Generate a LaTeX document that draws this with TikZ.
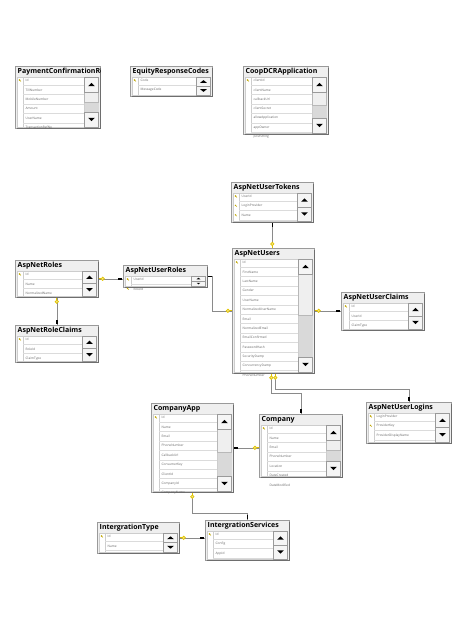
\documentclass[tikz,border=0pt]{standalone}
\usepackage{fontspec}
\setmainfont{Open Sans}
\usetikzlibrary{positioning}

\definecolor{framegray}{HTML}{9A9A9A}
\definecolor{shadegray}{HTML}{6E6E6E}
\definecolor{titlegray}{HTML}{EFEFEF}
\definecolor{trackgray}{HTML}{D9D9D9}
\definecolor{keyyellow}{HTML}{E2C400}
\definecolor{relgray}{HTML}{8A8A8A}

\tikzset{
  tblframe/.style={draw=framegray, fill=titlegray, line width=0.6pt, inner sep=0pt, rectangle},
  tbltitle/.style={font=\fontsize{7}{8}\selectfont\bfseries, inner sep=0pt, text=black},
  tblrow/.style={font=\fontsize{3.2}{3.6}\selectfont, inner sep=0pt, text=black!60},
  rel/.style={draw=relgray, line width=0.6pt},
  pkkey/.pic={
    \fill[keyyellow!85!black] (-0.5,-0.5) circle (0.8pt);
    \draw[keyyellow!85!black, line width=0.4pt] (-0.5,-0.5) -- (0.9,0.9);
  },
  relkey/.pic={
    \draw[keyyellow, line width=0.8pt] (0,0) -- (2.4,0);
    \draw[keyyellow, line width=0.7pt, fill=keyyellow!45] (4.1,0) circle (1.7pt);
  },
  manyend/.pic={
    \draw[black, line width=1.6pt] (0.8,0) -- (4.6,0);
  }
}

% table: name, top-left, width, height, title, rows (name/key)
\newcommand{\dbtable}[6]{%
  \begin{scope}[shift={(#2)}]
    \pgfmathsetmacro{\tblw}{#3}
    \pgfmathsetmacro{\tblh}{#4}
    \pgfmathsetmacro{\btnh}{min(15,(#4-12)/2)}
    \pgfmathsetmacro{\thumbh}{(#4-12-2*\btnh)*0.5}
    \pgfmathsetmacro{\triw}{min(3.4,\btnh*0.38)}
    \pgfmathsetmacro{\trih}{min(3.4,\btnh*0.3)}
    \node[tblframe, anchor=north west, minimum width=#3pt, minimum height=#4pt] (#1) at (0,0) {};
    \draw[shadegray, line width=1pt] (2,\tblh+0.7) -- (\tblw+0.7,\tblh+0.7) -- (\tblw+0.7,2);
    \begin{scope}
      \clip (0,0) rectangle (\tblw,\tblh);
      \node[tbltitle, anchor=west] (#1-title) at (2.5,6) {#5};
    \end{scope}
    % rows
    \draw[framegray!50, fill=white, line width=0.4pt] (2,11) rectangle (\tblw-15.5,\tblh-1);
    \draw[framegray!50, line width=0.3pt] (8,11) -- (8,\tblh-1);
    \foreach \rname/\rkey [count=\i from 0] in {#6} {
      \pgfmathsetmacro{\rowy}{14.5+9.4*\i}
      \pgfmathtruncatemacro{\inside}{(\rowy+4.7<\tblh-1.5)}
      \node[tblrow, anchor=west] (#1-r\i) at (10.5,\rowy) {\rname};
      \ifnum\rkey=1 \pic at (5,\rowy) {pkkey}; \fi
      \ifnum\inside=1 \draw[black!14, line width=0.3pt] (8,\rowy+4.7) -- (\tblw-16,\rowy+4.7); \fi
    }
    % scroll bar
    \fill[trackgray] (\tblw-15.5,11) rectangle (\tblw-1.5,\tblh-1);
    \draw[framegray!70, fill=titlegray, line width=0.3pt] (\tblw-15.5,11+\btnh) rectangle (\tblw-1.5,11+\btnh+\thumbh);
    \draw[framegray, fill=white!96!black, line width=0.3pt] (\tblw-15.5,11) rectangle (\tblw-1.5,11+\btnh);
    \draw[framegray, fill=white!96!black, line width=0.3pt] (\tblw-15.5,\tblh-1-\btnh) rectangle (\tblw-1.5,\tblh-1);
    \fill (\tblw-8.5-\triw,11+\btnh/2+\trih/2) -- (\tblw-8.5+\triw,11+\btnh/2+\trih/2) -- (\tblw-8.5,11+\btnh/2-\trih/2) -- cycle;
    \fill (\tblw-8.5-\triw,\tblh-1-\btnh/2-\trih/2) -- (\tblw-8.5+\triw,\tblh-1-\btnh/2-\trih/2) -- (\tblw-8.5,\tblh-1-\btnh/2+\trih/2) -- cycle;
  \end{scope}
}

\begin{document}
\begin{tikzpicture}[x=1pt, y=-1pt]
  \fill[white] (0,0) rectangle (474,632);
  \useasboundingbox (0,0) rectangle (474,632);

  % Unrelated tables
  \dbtable{payconf}{15,66}{85}{62}{PaymentConfirmationRequest}{Id/1, TillNumber/0, MobileNumber/0, Amount/0, UserName/0, TransactionRefNo/0}
  \dbtable{equity}{130,66}{82}{30}{EquityResponseCodes}{Code/1, MessageCode/0}
  \dbtable{coop}{243,66}{85}{68}{CoopDCRApplication}{clientId/1, clientName/0, callbackUrl/0, clientSecret/0, allowApplication/0, appOwner/0, postString/0}

  % Identity tables
  \dbtable{tokens}{231,182}{82}{40}{AspNetUserTokens}{UserId/1, LoginProvider/1, Name/1}
  \dbtable{roles}{15,260}{83}{37}{AspNetRoles}{Id/1, Name/0, NormalizedName/0}
  \dbtable{userroles}{123,265}{84}{22}{AspNetUserRoles}{UserId/1, RoleId/1}
  \dbtable{roleclaims}{15,325}{83}{37}{AspNetRoleClaims}{Id/1, RoleId/0, ClaimType/0}
  \dbtable{users}{232,248}{82}{125}{AspNetUsers}{Id/1, FirstName/0, LastName/0, Gender/0, UserName/0, NormalizedUserName/0, Email/0, NormalizedEmail/0, EmailConfirmed/0, PasswordHash/0, SecurityStamp/0, ConcurrencyStamp/0, PhoneNumber/0}
  \dbtable{userclaims}{341,292}{83}{38}{AspNetUserClaims}{Id/1, UserId/0, ClaimType/0}
  \dbtable{logins}{366,402}{85}{41}{AspNetUserLogins}{LoginProvider/1, ProviderKey/1, ProviderDisplayName/0}

  % Company tables
  \dbtable{companyapp}{151,403}{82}{89}{CompanyApp}{Id/1, Name/0, Email/0, PhoneNumber/0, CallbackUrl/0, ConsumerKey/0, ClientId/0, CompanyId/0, CompanyName/0}
  \dbtable{company}{259,414}{83}{63}{Company}{Id/1, Name/0, Email/0, PhoneNumber/0, Location/0, DateCreated/0, DateModified/0}
  \dbtable{inttype}{97,522}{82}{31}{IntergrationType}{Id/1, Name/0}
  \dbtable{intservices}{205,520}{84}{40}{IntergrationServices}{Id/1, Config/0, AppId/0}

  % Relationships
  \draw[rel] (roles.east) -- (roles.east -| userroles.west);
  \draw[rel] (roles.south) -- (roleclaims.north);
  \draw[rel] (userroles.east) -- ++(5,0) |- (users.west);
  \draw[rel] (tokens.south) -- (tokens.south |- users.north);
  \draw[rel] (users.east) -- (users.east -| userclaims.west);
  \draw[rel] ([xshift=-2pt]users.south) -- ++(0,20) -| (company.north);
  \draw[rel] ([xshift=2pt]users.south) -- ++(0,16) -| (logins.north);
  \draw[rel] (companyapp.east) -- (companyapp.east -| company.west);
  \draw[rel] (companyapp.south) -- ++(0,21) -| (intservices.north);
  \draw[rel] (inttype.east) -- (inttype.east -| intservices.west);

  % End marks
  \pic at (roles.east) {relkey};
  \pic[rotate=180] at (roles.east -| userroles.west) {manyend};
  \pic[rotate=-90] at (roles.south) {relkey};
  \pic[rotate=90] at (roleclaims.north) {manyend};
  \pic at (userroles.east) {manyend};
  \pic[rotate=180] at (users.west) {relkey};
  \pic[rotate=-90] at (tokens.south) {manyend};
  \pic[rotate=90] at (tokens.south |- users.north) {relkey};
  \pic at (users.east) {relkey};
  \pic[rotate=180] at (users.east -| userclaims.west) {manyend};
  \pic[rotate=-90] at ([xshift=-2pt]users.south) {relkey};
  \pic[rotate=-90] at ([xshift=2pt]users.south) {relkey};
  \pic[rotate=90] at (company.north) {manyend};
  \pic[rotate=90] at (logins.north) {manyend};
  \pic at (companyapp.east) {manyend};
  \pic[rotate=180] at (companyapp.east -| company.west) {relkey};
  \pic[rotate=-90] at (companyapp.south) {relkey};
  \pic[rotate=90] at (intservices.north) {manyend};
  \pic at (inttype.east) {relkey};
  \pic[rotate=180] at (inttype.east -| intservices.west) {manyend};
\end{tikzpicture}
\end{document}
